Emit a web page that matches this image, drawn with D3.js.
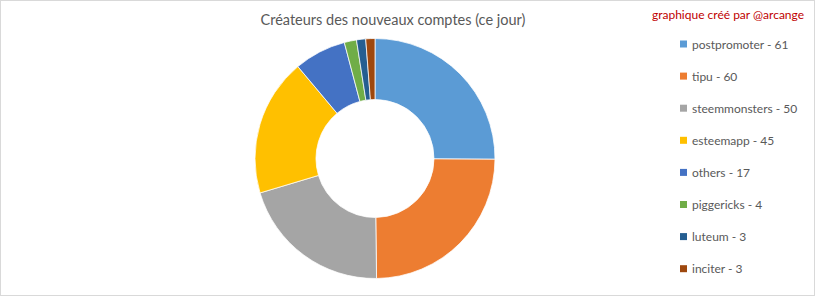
<!DOCTYPE html>
<html>
<head>
<meta charset="utf-8">
<script src="https://cdn.jsdelivr.net/npm/d3@7.9.0/dist/d3.min.js"></script>
<style>
  body { margin: 0; background: #fff; }
  svg { display: block; font-family: Lato, "Open Sans", sans-serif; }
</style>
</head>
<body>
<svg width="816" height="297"></svg>
<script>
const labels = ['postpromoter', 'tipu', 'steemmonsters', 'esteemapp', 'others', 'piggericks', 'luteum', 'inciter'];
const values = [61, 60, 50, 45, 17, 4, 3, 3];
const palette = ['#5b9bd5', '#ed7d31', '#a5a5a5', '#ffc000', '#4472c4', '#70ad47', '#255e91', '#9e480e'];

const title = 'Créateurs des nouveaux comptes (ce jour)';
const credit = 'graphique créé par @arcange';

const svg = d3.select('svg');

// chart frame
svg.append('rect')
    .attr('x', 0.5).attr('y', 0.5)
    .attr('width', 814).attr('height', 295)
    .attr('fill', '#fff')
    .attr('stroke', '#d9d9d9');

svg.append('text')
    .attr('x', 393).attr('y', 25)
    .attr('text-anchor', 'middle')
    .attr('font-size', 14.5)
    .attr('fill', '#595959')
    .text(title);

svg.append('text')
    .attr('x', 728).attr('y', 19)
    .attr('text-anchor', 'middle')
    .attr('font-size', 12)
    .attr('fill', '#c00000')
    .text(credit);

const data = labels.map((l, i) => ({ label: l, value: values[i] }));
const color = d3.scaleOrdinal().domain(labels).range(palette);

const pie = d3.pie().value(d => d.value).sort(null);
const arc = d3.arc().innerRadius(59).outerRadius(120);

const g = svg.append('g').attr('transform', 'translate(375,158.5)');
g.selectAll('path')
    .data(pie(data))
    .join('path')
    .attr('d', arc)
    .attr('fill', d => color(d.data.label))
    .attr('stroke', '#fff')
    .attr('stroke-width', 0.75);

// legend
const legend = svg.append('g');
const item = legend.selectAll('g')
    .data(data)
    .join('g')
    .attr('transform', (d, i) => `translate(680,${44 + i * 32.1})`);

item.append('rect')
    .attr('x', 0).attr('y', -3.5)
    .attr('width', 7).attr('height', 7)
    .attr('fill', d => color(d.label));

item.append('text')
    .attr('x', 12).attr('y', 4.5)
    .attr('font-size', 12)
    .attr('fill', '#595959')
    .text(d => `${d.label} - ${d.value}`);
</script>
</body>
</html>
